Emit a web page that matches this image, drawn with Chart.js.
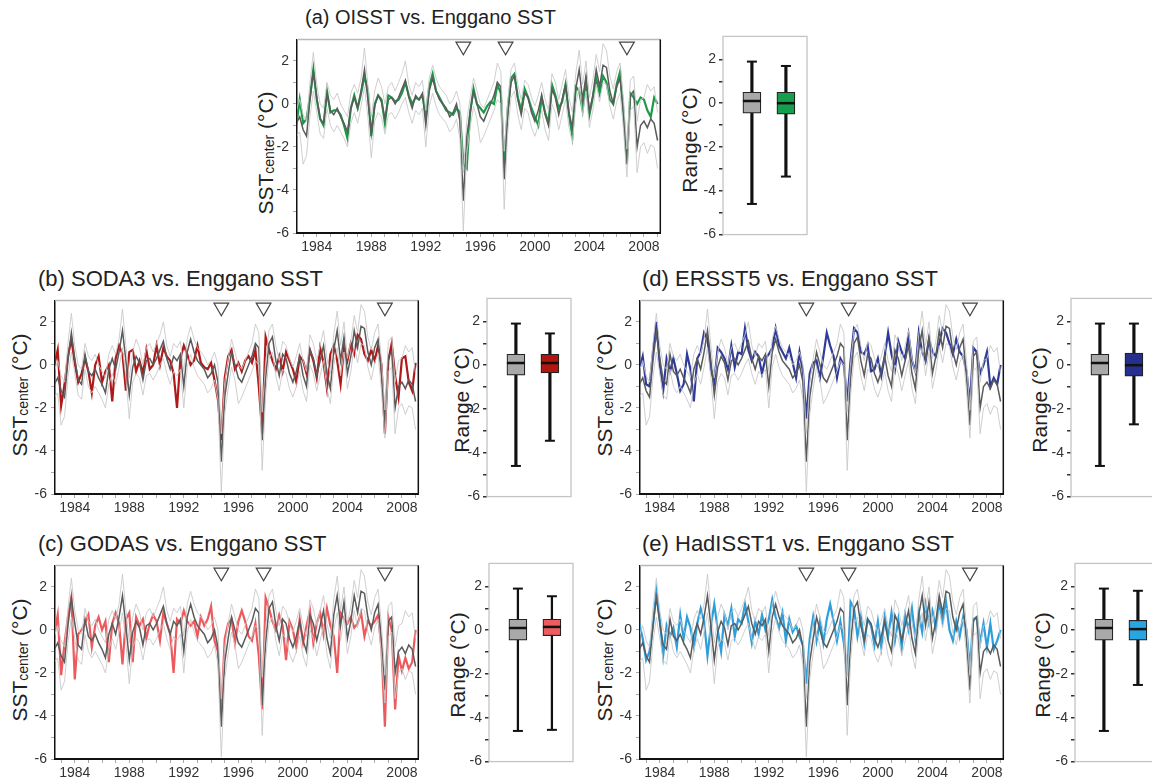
<!DOCTYPE html>
<html>
<head>
<meta charset="utf-8">
<script src="https://cdn.jsdelivr.net/npm/chart.js@4.4.1/dist/chart.umd.min.js"></script>
<style>
  body { margin: 0; width: 1152px; height: 778px; overflow: hidden; position: relative; background: #fff;
         font-family: "Liberation Sans", Arial, sans-serif; color: #222; }
  .ttl { position: absolute; font-size: 18px; white-space: nowrap; }
  .ylab { position: absolute; font-size: 21px; white-space: nowrap; transform: translate(-50%, -50%) rotate(-90deg); }
  .ylab sub { font-size: 14px; vertical-align: -1px; }
  canvas { position: absolute; }
</style>
</head>
<body>
<script>
// ---- data (quarterly samples, 1982.50 .. 2009.00) ----
const T0 = 1982.5, DT = 0.25;

const CORAL = [
  -0.9,-0.6,-1.2,-1.5,  0.2,1.5,0.3,-0.7,  -0.9,0.5,-0.3,-0.5,  -0.2,-0.6,-0.9,-1.3,
  -0.2,0.3,-0.2,0.6,  1.6,0.2,-1.4,-0.1,  0.4,0.1,-0.7,0.2,  0.3,0.0,0.3,0.7,
  1.1,0.3,-0.2,0.4,  0.2,0.5,-1.0,0.6,  1.2,0.6,0.2,0.0,  -0.2,-0.6,-0.4,0.0,
  -0.8,-4.5,-1.5,-0.4,  0.6,0.0,-0.6,-0.8,  -0.4,0.0,0.4,1.0,  0.8,-3.5,-0.6,1.0,
  1.3,0.2,-0.5,0.5,  0.3,-0.4,-0.8,-0.3,  0.4,-0.5,-1.0,0.7,  0.3,-0.5,0.2,0.9,
  -0.4,-1.1,0.7,1.6,  0.2,1.3,-0.4,0.4,  1.6,0.8,1.8,1.7,  0.6,0.0,0.8,1.2,
  -0.5,-2.8,0.4,0.6,  -2.0,-1.0,-0.8,-1.1,  -0.7,-0.9,-1.7
];
const CORAL_UPPER = [
  -0.3,0.2,-0.5,-0.8,  1.0,2.4,0.9,0.0,  -0.2,1.0,0.4,0.2,  0.5,0.0,-0.3,-0.6,
  0.5,0.9,0.5,1.2,  2.6,0.9,-0.6,0.6,  1.2,0.8,0.0,0.8,  1.0,0.6,1.0,1.4,
  2.0,0.9,0.4,1.0,  0.8,1.1,-0.3,1.2,  1.8,1.2,0.8,0.6,  0.4,0.0,0.2,0.6,
  0.0,-3.2,-0.8,0.3,  1.2,0.6,0.0,-0.2,  0.2,0.6,1.0,1.9,  1.5,-2.2,0.1,1.6,
  1.9,0.9,0.2,1.1,  0.9,0.3,-0.1,0.4,  1.0,0.2,-0.3,1.4,  1.0,0.2,0.9,1.6,
  0.3,-0.4,1.4,2.5,  0.9,2.0,0.3,1.1,  2.3,1.5,2.8,2.5,  1.3,0.7,1.5,1.9,
  0.2,-2.1,1.1,1.3,  -0.8,0.2,0.3,0.9,  0.6,0.8,-0.4
];
const CORAL_LOWER = [
  -1.5,-1.3,-2.8,-2.4,  -0.6,0.6,-0.4,-1.4,  -1.6,-0.2,-1.0,-1.3,  -1.0,-1.3,-1.6,-2.0,
  -0.9,-0.4,-0.9,-0.1,  0.8,-0.6,-2.5,-0.8,  -0.4,-0.6,-1.4,-0.5,  -0.4,-0.7,-0.4,0.0,
  0.3,-0.4,-0.9,-0.3,  -0.5,-0.2,-2.0,-0.1,  0.5,-0.1,-0.5,-0.7,  -0.9,-1.3,-1.1,-0.7,
  -1.6,-5.9,-2.3,-1.1,  -0.1,-0.7,-1.8,-1.5,  -1.1,-0.7,-0.3,0.2,  0.0,-4.9,-1.4,0.3,
  0.6,-0.5,-1.2,-0.2,  -0.4,-1.1,-1.5,-1.0,  -0.3,-1.2,-1.7,0.0,  -0.4,-1.2,-0.5,0.2,
  -1.1,-1.8,0.0,0.8,  -0.5,0.6,-1.1,-0.3,  0.9,0.1,1.0,0.9,  -0.1,-0.7,0.1,0.5,
  -1.2,-3.4,-0.3,-0.1,  -3.2,-2.0,-1.8,-2.3,  -1.9,-2.0,-3.0
];
const OISST = [
  -1.0,0.2,-0.9,-0.7,  0.3,1.6,0.2,-0.7,  -1.0,0.6,-0.4,-0.3,  -0.3,-0.5,-1.0,-1.6,
  -0.2,0.4,-0.2,0.5,  1.3,0.6,-1.5,0.0,  0.4,0.2,-0.9,0.4,  0.3,0.1,0.2,0.5,
  1.0,0.4,0.0,0.3,  0.2,0.4,-0.5,0.8,  1.4,0.6,0.3,0.0,  -0.3,-0.4,-0.5,-0.2,
  -0.4,-2.8,-3.0,-0.4,  0.7,0.0,-0.2,-0.4,  -0.1,0.1,0.0,0.9,  0.5,-2.8,-0.3,1.2,
  1.4,0.3,-0.3,0.7,  0.3,-0.2,-0.6,-1.0,  0.3,-0.4,-0.9,0.9,  0.4,-0.2,0.1,0.9,
  -0.5,-1.5,0.8,0.6,  -0.3,1.0,-0.5,0.3,  1.2,0.5,1.3,1.0,  0.2,0.0,0.9,1.5,
  -0.4,-2.8,0.5,0.3,  0.0,0.3,0.2,-0.3,  -0.6,0.3,0.0
];
const SODA3 = [
  0.0,0.7,-1.9,-0.9,  0.4,1.2,0.1,-0.8,  -0.4,0.3,-0.3,-1.3,  0.0,0.4,-0.8,-0.3,
  0.0,-1.7,0.3,0.9,  0.5,-1.2,0.6,0.7,  -0.3,0.2,-0.4,0.7,  -0.2,0.0,0.9,0.0,
  0.8,0.4,0.2,-0.4,  -2.0,0.3,0.9,0.5,  0.0,0.2,0.9,0.1,  -0.1,-0.2,0.1,-0.7,
  -1.6,-3.5,-0.6,0.4,  0.7,-0.2,0.1,-0.3,  0.2,0.4,0.1,0.7,  -1.0,-3.2,1.3,0.7,
  0.2,-0.2,0.4,-0.3,  0.6,0.2,-0.2,-0.8,  0.4,0.2,-0.4,0.7,  0.2,-0.6,0.8,0.1,
  -1.1,0.5,0.9,0.2,  -0.9,0.8,0.2,1.0,  0.5,1.4,1.2,0.5,  0.2,0.7,0.2,0.9,
  0.0,-3.2,0.2,1.0,  -0.5,-1.5,0.3,0.4,  -0.8,-1.2,0.1
];
const ERSST5 = [
  -0.2,0.4,-0.9,-1.0,  0.6,2.0,0.0,-1.2,  0.3,-0.3,0.3,-0.4,  -1.2,-0.9,0.5,-0.2,
  -1.7,0.3,0.6,1.5,  1.2,-0.2,-0.8,0.8,  0.6,0.3,-0.2,0.9,  -0.1,0.6,0.5,1.7,
  0.7,0.2,0.6,0.4,  -0.4,0.3,0.5,0.8,  1.7,0.9,0.6,0.3,  0.8,0.1,-0.6,0.6,
  -0.3,-2.5,-0.4,0.1,  0.2,-0.6,0.4,1.5,  0.9,0.4,-0.6,0.3,  0.0,-1.7,0.2,1.7,
  1.5,0.6,0.5,0.9,  -0.3,-0.2,0.3,-0.5,  0.4,1.5,0.5,-0.2,  1.1,0.6,0.3,1.4,
  0.2,-0.3,1.5,0.6,  0.2,1.2,0.6,0.4,  1.0,1.7,1.5,1.0,  0.5,1.2,0.6,0.4,
  -0.3,-1.8,0.8,0.6,  -0.4,0.0,0.6,-1.0,  -0.6,-0.9,0.0
];
const GODAS = [
  -0.2,0.7,-2.1,-0.6,  0.6,1.5,-2.3,-0.2,  0.0,0.3,0.7,-0.8,  0.2,0.6,0.0,0.4,
  -1.5,0.3,0.8,0.3,  -1.6,0.5,0.8,-1.5,  0.6,0.2,0.5,-0.4,  0.3,0.7,0.4,-0.5,
  0.8,0.3,-0.2,-2.0,  0.5,0.3,0.9,0.4,  0.2,0.4,-0.3,0.6,  0.2,0.5,1.1,-0.5,
  -1.0,-3.8,-0.4,0.3,  0.5,-0.6,0.4,0.9,  0.4,-0.3,-0.5,0.3,  -1.2,-3.7,1.5,1.0,
  0.4,0.0,0.7,0.2,  -1.4,0.4,0.0,-0.8,  0.5,-0.6,0.2,0.9,  -0.6,0.3,0.8,-0.2,
  1.0,0.2,-0.3,-2.0,  0.8,0.5,0.3,0.6,  0.1,0.3,0.8,-0.3,  0.4,0.2,0.4,0.7,
  -0.9,-4.5,0.6,0.0,  -3.7,-1.2,-1.9,-1.3,  -1.8,-1.5,0.0
];
const HADISST1 = [
  0.3,-0.4,-1.4,-1.0,  0.2,1.8,0.5,-1.2,  0.2,-0.3,0.1,-0.8,  0.7,-0.4,0.6,0.1,
  -0.8,0.3,1.0,0.4,  -1.2,0.2,1.2,0.0,  -1.0,0.7,0.2,1.0,  -0.3,0.5,0.3,1.2,
  0.4,-0.6,0.4,-0.2,  0.7,0.0,0.5,1.4,  0.6,0.1,0.8,-0.5,  0.5,-0.1,0.2,-0.3,
  -0.7,-2.5,-0.4,0.6,  -0.5,0.4,-0.6,0.5,  1.2,0.4,-0.5,0.4,  -0.6,-2.1,1.3,1.0,
  -0.3,0.6,-0.6,0.5,  0.2,-0.7,0.4,-0.8,  0.6,-0.3,0.8,-0.5,  0.5,-0.8,0.7,0.0,
  1.0,-0.4,0.8,-0.1,  1.2,0.3,0.9,0.1,  1.3,0.4,1.3,0.0,  -0.5,0.4,-0.3,0.6,
  0.0,-1.8,0.5,0.6,  -0.6,0.3,-0.8,0.3,  -0.9,-0.5,0.0
];

// IOD events marked with triangles
const EVENT_YEARS = [1994.75, 1997.85, 2006.75];

// box plot stats: [min, q1, median, q3, max]
const BOX_ENGGANO = [-4.6, -0.45, 0.1, 0.5, 1.9];
const BOX_OISST   = [-3.35, -0.5, 0.0, 0.5, 1.7];
const BOX_SODA3   = [-3.45, -0.35, 0.1, 0.5, 1.45];
const BOX_ERSST5  = [-2.7, -0.5, 0.0, 0.55, 1.9];
const BOX_GODAS   = [-4.55, -0.25, 0.15, 0.5, 1.55];
const BOX_HADISST = [-2.5, -0.45, 0.05, 0.45, 1.8];

const YEAR_TICKS = [1983,1984,1985,1986,1987,1988,1989,1990,1991,1992,1993,1994,1995,
                    1996,1997,1998,1999,2000,2001,2002,2003,2004,2005,2006,2007,2008,2009];
const Y_TICKS = [-6,-5,-4,-3,-2,-1,0,1,2];

const TIME = CORAL.map((_, i) => T0 + i * DT);

// ---- layout ----
const PANELS = [
  { title: '(a) OISST vs. Enggano SST',   series: OISST,    box: BOX_OISST,   color: '#1d9a48', fill: '#14a04b',
    px: 297, py: 37,  bx: 723,  by: 35,  tx: 305, ty: 6,   yl: [266, 153], rl: [690, 140], ts: 20, ww: 2.5 },
  { title: '(b) SODA3 vs. Enggano SST',   series: SODA3,    box: BOX_SODA3,   color: '#b0191a', fill: '#b3150f',
    px: 55,  py: 298, bx: 487,  by: 297, tx: 38,  ty: 266, yl: [20, 395],  rl: [462, 400], ts: 22, ww: 2.5 },
  { title: '(d) ERSST5 vs. Enggano SST',  series: ERSST5,   box: BOX_ERSST5,  color: '#2f3b98', fill: '#262f8e',
    px: 640, py: 298, bx: 1071, by: 297, tx: 642, ty: 266, yl: [605, 395], rl: [1040, 400], ts: 22, ww: 2.5 },
  { title: '(c) GODAS vs. Enggano SST',   series: GODAS,    box: BOX_GODAS,   color: '#ec5a5e', fill: '#ef5c60',
    px: 55,  py: 563, bx: 489,  by: 562, tx: 38,  ty: 531, yl: [20, 660],  rl: [458, 665], ts: 22, ww: 1.6 },
  { title: '(e) HadISST1 vs. Enggano SST', series: HADISST1, box: BOX_HADISST, color: '#2e9fdb', fill: '#2aa5e0',
    px: 640, py: 563, bx: 1075, by: 562, tx: 642, ty: 531, yl: [605, 660], rl: [1043, 665], ts: 22, ww: 2.5 },
];
const PW = 371, PH = 196, BW = 84, BH = 201, YAX = 30, XAX = 22, PAD = 10;

Chart.defaults.font.family = '"Liberation Sans", Arial, sans-serif';
Chart.defaults.font.size = 14;
Chart.defaults.color = '#333';
Chart.defaults.animation = false;

const framePlugin = {
  id: 'frame',
  afterDraw(chart, args, opts) {
    const { ctx, chartArea: a } = chart;
    ctx.save();
    if (opts.kind === 'line') {
      ctx.strokeStyle = '#b8b8b8'; ctx.lineWidth = 1.5;
      ctx.beginPath(); ctx.moveTo(a.left, a.top); ctx.lineTo(a.right, a.top); ctx.stroke();
      ctx.strokeStyle = '#111'; ctx.lineWidth = 1.5;
      ctx.beginPath(); ctx.moveTo(a.right, a.top); ctx.lineTo(a.right, a.bottom); ctx.stroke();
    } else if (opts.kind === 'box') {
      ctx.strokeStyle = '#c4c4c4'; ctx.lineWidth = 1.3;
      ctx.strokeRect(a.left, a.top, a.right - a.left, a.bottom - a.top);
    }
    ctx.restore();
  }
};

const boxMarks = {
  id: 'boxmarks',
  afterDatasetsDraw(chart, args, opts) {
    if (!opts.stats) return;
    const { ctx, scales: { x, y } } = chart;
    ctx.save();
    ctx.strokeStyle = '#111';
    opts.stats.forEach((s, i) => {
      const cx = x.getPixelForValue(i + 1);
      ctx.lineWidth = 2;
      [s[0], s[4]].forEach(v => {
        const py = y.getPixelForValue(v);
        ctx.beginPath(); ctx.moveTo(cx - 5, py); ctx.lineTo(cx + 5, py); ctx.stroke();
      });
      ctx.lineWidth = 2.5;
      const pm = y.getPixelForValue(s[2]);
      ctx.beginPath(); ctx.moveTo(cx - 9, pm); ctx.lineTo(cx + 9, pm); ctx.stroke();
    });
    ctx.restore();
  }
};

function addDiv(cls, html, css) {
  const d = document.createElement('div');
  d.className = cls; d.innerHTML = html;
  Object.assign(d.style, css);
  document.body.appendChild(d);
}

function addCanvas(l, t, w, h) {
  const c = document.createElement('canvas');
  c.width = w; c.height = h;
  c.style.left = l + 'px'; c.style.top = t + 'px';
  c.style.width = w + 'px'; c.style.height = h + 'px';
  document.body.appendChild(c);
  return c;
}

const pts = arr => TIME.map((t, i) => ({ x: t, y: arr[i] }));

function lineChart(p) {
  const c = addCanvas(p.px - YAX, p.py - PAD, YAX + PW + 2, PAD + PH + XAX);
  const thin = { borderColor: '#c9c9c9', borderWidth: 0.9, pointRadius: 0, tension: 0 };
  new Chart(c, {
    type: 'line',
    data: {
      datasets: [
        { ...thin, data: pts(CORAL_UPPER) },
        { ...thin, data: pts(CORAL_LOWER) },
        { data: pts(CORAL), borderColor: '#5b5b5b', borderWidth: 1.5, pointRadius: 0, tension: 0 },
        { data: pts(p.series), borderColor: p.color, borderWidth: 2.2, pointRadius: 0, tension: 0 },
        { type: 'scatter', data: EVENT_YEARS.map(x => ({ x, y: 2.68 })), pointStyle: 'triangle', rotation: 180,
          radius: 8.5, backgroundColor: '#fff', borderColor: '#444', borderWidth: 1.2, clip: false },
      ]
    },
    options: {
      responsive: false,
      layout: { padding: { top: PAD, right: 2, left: 0, bottom: 0 } },
      plugins: { legend: { display: false }, tooltip: { enabled: false }, frame: { kind: 'line' } },
      scales: {
        x: {
          type: 'linear', min: 1982.55, max: 2009.2,
          afterBuildTicks: s => { s.ticks = YEAR_TICKS.map(v => ({ value: v })); },
          afterFit: s => { s.height = XAX; },
          ticks: { autoSkip: false, maxRotation: 0, padding: 2, callback: v => (v % 4 === 0 ? String(v) : '') },
          grid: { drawOnChartArea: false, tickLength: 4, color: '#aaa' },
          border: { color: '#111', width: 2 }
        },
        y: {
          min: -6, max: 3,
          afterBuildTicks: s => { s.ticks = Y_TICKS.map(v => ({ value: v })); },
          afterFit: s => { s.width = YAX; },
          ticks: { autoSkip: false, padding: 4, callback: v => (v % 2 === 0 ? String(v) : '') },
          grid: { drawOnChartArea: false, tickLength: 4, color: '#aaa' },
          border: { color: '#111', width: 1.5 }
        }
      }
    },
    plugins: [framePlugin]
  });
}

function boxChart(p) {
  const c = addCanvas(p.bx - YAX, p.by - PAD, YAX + BW + 2, PAD + BH + PAD);
  const stats = [BOX_ENGGANO, p.box];
  new Chart(c, {
    type: 'bar',
    data: {
      datasets: [
        { data: stats.map((s, i) => ({ x: i + 1, y: [s[1], s[3]] })), backgroundColor: ['#a9a9a9', p.fill],
          borderColor: '#222', borderWidth: 1.2, borderSkipped: false, barThickness: 18, grouped: false, order: 0 },
        { data: stats.map((s, i) => ({ x: i + 1, y: [s[0], s[4]] })), backgroundColor: '#111',
          barThickness: p.ww, grouped: false, order: 1 },
      ]
    },
    options: {
      responsive: false,
      layout: { padding: { top: PAD, right: 2, left: 0, bottom: PAD } },
      plugins: { legend: { display: false }, tooltip: { enabled: false }, frame: { kind: 'box' }, boxmarks: { stats } },
      scales: {
        x: { type: 'linear', min: 0.15, max: 2.62, offset: false, display: false },
        y: {
          min: -6, max: 3.05,
          afterBuildTicks: s => { s.ticks = Y_TICKS.map(v => ({ value: v })); },
          afterFit: s => { s.width = YAX; },
          ticks: { autoSkip: false, padding: 3, callback: v => (v % 2 === 0 ? String(v) : '') },
          grid: { drawOnChartArea: false, tickLength: 4, color: '#333', lineWidth: 1.5 },
          border: { display: false }
        }
      }
    },
    plugins: [framePlugin, boxMarks]
  });
}

PANELS.forEach(p => {
  addDiv('ttl', p.title, { left: p.tx + 'px', top: p.ty + 'px', fontSize: p.ts + 'px' });
  addDiv('ylab', 'SST<sub>center</sub> (°C)', { left: p.yl[0] + 'px', top: p.yl[1] + 'px' });
  addDiv('ylab', 'Range (°C)', { left: p.rl[0] + 'px', top: p.rl[1] + 'px' });
  lineChart(p);
  boxChart(p);
});
</script>
</body>
</html>
